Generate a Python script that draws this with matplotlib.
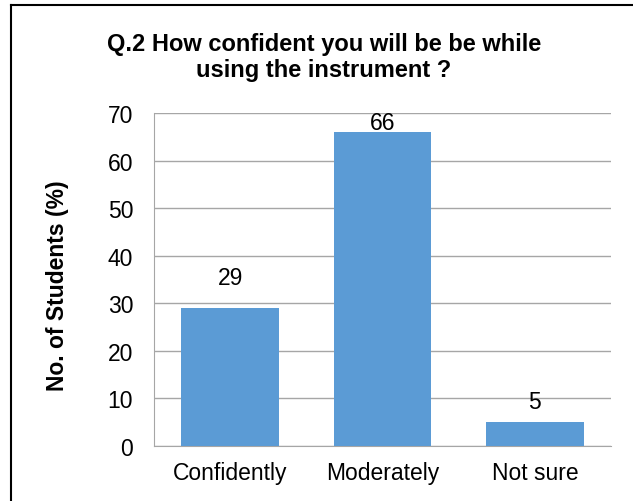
import matplotlib
matplotlib.use("Agg")
import matplotlib.pyplot as plt
from matplotlib.lines import Line2D

categories = ["Confidently", "Moderately", "Not sure"]
values = [29, 66, 5]
label_y = [35.4, 68.0, 9.4]
yticks = [0, 10, 20, 30, 40, 50, 60, 70]

plt.rcParams['font.family'] = ['Liberation Sans', 'DejaVu Sans']

fig = plt.figure(figsize=(6.33, 5.02), dpi=100)
ax = fig.add_axes([154 / 633, 55 / 502, 457 / 633, 333 / 502])

x = range(len(categories))
ax.bar(x, values, width=0.64, color="#5B9BD5", zorder=3)
for xi, v, ly in zip(x, values, label_y):
    ax.text(xi, ly, str(v), ha="center", va="center", fontsize=16.5, color="black")

ax.set_xlim(-0.5, 2.5)
ax.set_ylim(0, 70)
ax.set_yticks(yticks)
ax.set_xticks(list(x))
ax.set_xticklabels(categories)
ax.tick_params(axis="both", length=0, labelsize=16.5)
ax.tick_params(axis="y", pad=15)
ax.tick_params(axis="x", pad=11)
ax.yaxis.grid(True, color="#a6a6a6", linewidth=1.0, zorder=0)
for s in ["top", "right"]:
    ax.spines[s].set_visible(False)
ax.spines["left"].set_color("#a6a6a6")
ax.spines["bottom"].set_color("#a6a6a6")
ax.set_ylabel("No. of Students (%)", fontsize=16.5, fontweight="bold", va="center")
ax.yaxis.set_label_coords(-0.212, 0.485)

fig.text(324 / 633, 1 - 44 / 502, "Q.2 How confident you will be be while",
         ha="center", va="center", fontsize=17, fontweight="bold")
fig.text(324 / 633, 1 - 70 / 502, "using the instrument ?",
         ha="center", va="center", fontsize=17, fontweight="bold")

# outer chart border (only left and top visible in the crop)
fig.add_artist(Line2D([11 / 633, 11 / 633], [0, 1 - 6 / 502], color="black", linewidth=1.5))
fig.add_artist(Line2D([11 / 633, 1], [1 - 6 / 502, 1 - 6 / 502], color="black", linewidth=1.5))

fig.savefig("out.png", dpi=100)
